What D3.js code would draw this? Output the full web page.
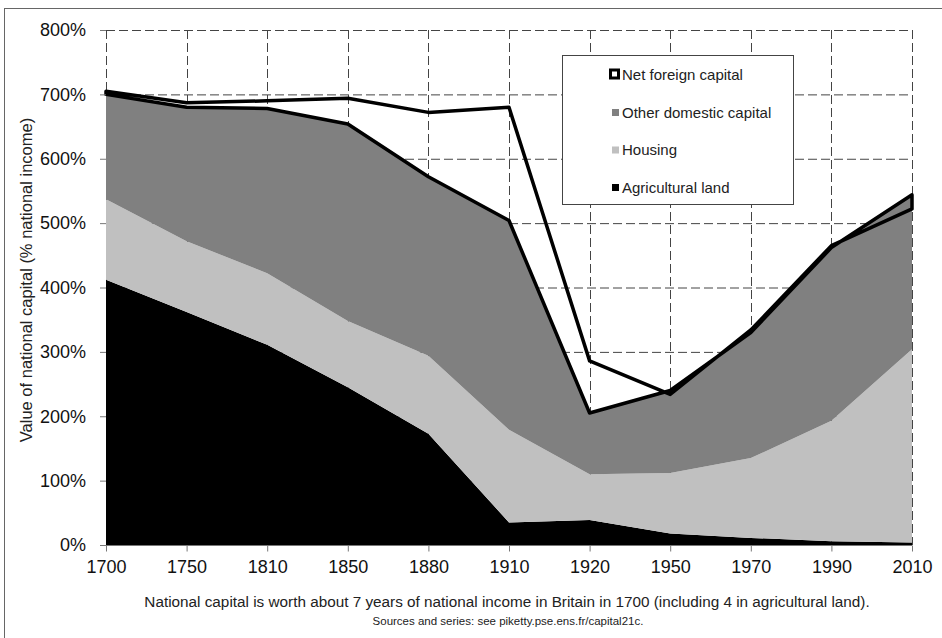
<!DOCTYPE html>
<html>
<head>
<meta charset="utf-8">
<script src="https://cdn.jsdelivr.net/npm/d3@7"></script>
<style>
  body { margin: 0; background: #fff; }
  svg { font-family: 'Liberation Sans', Arial, sans-serif; }
</style>
</head>
<body>
<svg id="chart"></svg>
<script>
const years = ['1700', '1750', '1810', '1850', '1880', '1910', '1920', '1950', '1970', '1990', '2010'];
const agriculturalLand = [412, 362, 311, 245, 173, 35, 39, 18, 11, 6, 4];
const housing = [125, 110, 111, 103, 121, 144, 71, 94, 124, 187, 300];
const otherDomestic = [163, 208, 256, 306, 278, 325, 95, 128, 195, 269, 240];
const netForeign = [5, 7, 12, 40, 100, 176, 81, -6, 4, 3, -22];
const yTicks = [0, 100, 200, 300, 400, 500, 600, 700, 800];

const width = 942;
const height = 638;
const margin = { top: 30, right: 30, bottom: 93, left: 106 };

const svg = d3.select('#chart').attr('width', width).attr('height', height);

// outer frame
svg.append('rect')
  .attr('x', 4.5).attr('y', 8.5)
  .attr('width', 940).attr('height', 632)
  .attr('fill', 'none')
  .attr('stroke', '#666');

const x = d3.scalePoint()
  .domain(years)
  .range([margin.left, width - margin.right]);

const y = d3.scaleLinear()
  .domain([0, 800])
  .range([height - margin.bottom, margin.top]);

const rows = years.map((yr, i) => {
  const a = agriculturalLand[i];
  const h = a + housing[i];
  const d = h + otherDomestic[i];
  return { year: yr, a, h, d, t: d + netForeign[i] };
});

// grid
const grid = svg.append('g')
  .attr('stroke', '#444')
  .attr('stroke-width', 1)
  .attr('stroke-dasharray', '9,4');

grid.selectAll('.hgrid')
  .data(yTicks.filter(v => v > 0))
  .join('line')
  .attr('x1', margin.left).attr('x2', width - margin.right)
  .attr('y1', d => y(d) + 0.5).attr('y2', d => y(d) + 0.5);

grid.selectAll('.vgrid')
  .data(years)
  .join('line')
  .attr('x1', d => Math.round(x(d)) + 0.5).attr('x2', d => Math.round(x(d)) + 0.5)
  .attr('y1', y(800)).attr('y2', y(0));

// stacked areas
const band = (lo, hi, color) => {
  svg.append('path')
    .datum(rows)
    .attr('fill', color)
    .attr('d', d3.area()
      .x(d => x(d.year))
      .y0(d => y(lo(d)))
      .y1(d => y(hi(d))));
};

band(() => 0, d => d.a, '#000');
band(d => d.a, d => d.h, '#c0c0c0');
band(d => d.h, d => d.d, '#808080');

// net foreign capital: outline only
svg.append('path')
  .datum(rows)
  .attr('fill', 'none')
  .attr('stroke', '#000')
  .attr('stroke-width', 3.5)
  .attr('stroke-linejoin', 'round')
  .attr('d', d3.area()
    .x(d => x(d.year))
    .y0(d => y(d.d))
    .y1(d => y(d.t)));

// axes
const yAxis = svg.append('g')
  .attr('transform', `translate(${margin.left},0)`)
  .call(d3.axisLeft(y).tickValues(yTicks).tickSize(6).tickPadding(14).tickFormat(d => d + '%'));
yAxis.select('.domain').remove();
yAxis.selectAll('.tick line').attr('stroke', '#777');
yAxis.selectAll('text').attr('font-size', 18).attr('fill', '#111');

const xAxis = svg.append('g')
  .attr('transform', `translate(0,${y(0) + 0.5})`)
  .call(d3.axisBottom(x).tickSize(6).tickPadding(9));
xAxis.select('.domain').attr('stroke', '#777').attr('d', `M${margin.left},0H${width - margin.right}`);
xAxis.selectAll('.tick line').attr('stroke', '#777');
xAxis.selectAll('text').attr('font-size', 18).attr('fill', '#111');

// y title
svg.append('text')
  .attr('transform', `translate(32,280) rotate(-90)`)
  .attr('text-anchor', 'middle')
  .attr('font-size', 16.5)
  .attr('fill', '#222')
  .text('Value of national capital (% national income)');

// captions
svg.append('text')
  .attr('x', 507).attr('y', 607)
  .attr('text-anchor', 'middle')
  .attr('font-size', 15.3)
  .attr('fill', '#222')
  .text('National capital is worth about 7 years of national income in Britain in 1700 (including 4 in agricultural land).');

svg.append('text')
  .attr('x', 508).attr('y', 625)
  .attr('text-anchor', 'middle')
  .attr('font-size', 11.5)
  .attr('fill', '#222')
  .text('Sources and series: see piketty.pse.ens.fr/capital21c.');

// legend
const legendItems = [
  { name: 'Net foreign capital', fill: '#fff', stroke: '#000' },
  { name: 'Other domestic capital', fill: '#808080' },
  { name: 'Housing', fill: '#c0c0c0' },
  { name: 'Agricultural land', fill: '#000' }
];

const legend = svg.append('g').attr('transform', 'translate(562,55)');
legend.append('rect')
  .attr('x', 0.5).attr('y', 0.5)
  .attr('width', 231).attr('height', 149)
  .attr('fill', '#fff')
  .attr('stroke', '#444');

const entry = legend.selectAll('.entry')
  .data(legendItems)
  .join('g')
  .attr('transform', (d, i) => `translate(0,${20 + i * 37.5})`);

entry.append('rect')
  .attr('x', d => d.stroke ? 48.5 : 50)
  .attr('y', d => d.stroke ? -5 : -3.5)
  .attr('width', d => d.stroke ? 8 : 7)
  .attr('height', d => d.stroke ? 8 : 7)
  .attr('fill', d => d.fill)
  .attr('stroke', d => d.stroke || 'none')
  .attr('stroke-width', 3);

entry.append('text')
  .attr('x', 60)
  .attr('dy', '0.35em')
  .attr('font-size', 15)
  .attr('fill', '#222')
  .text(d => d.name);
</script>
</body>
</html>
